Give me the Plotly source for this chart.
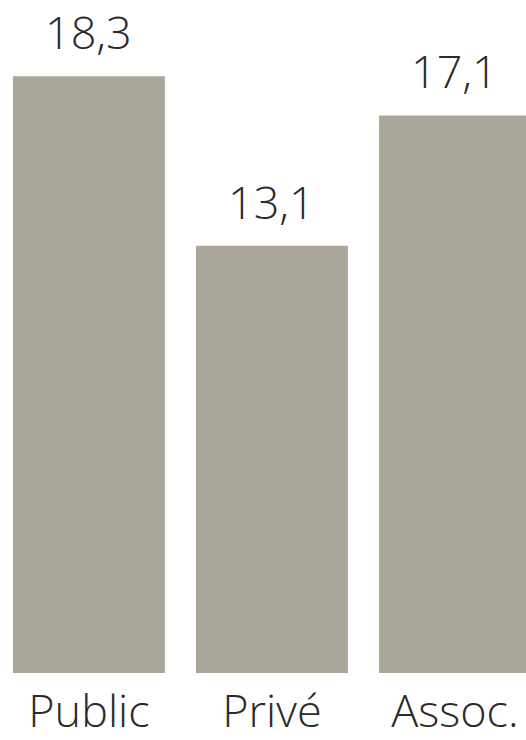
import plotly.graph_objects as go

categories = ["Public", "Privé", "Assoc."]
values = [18.3, 13.1, 17.1]
value_labels = ["18,3", "13,1", "17,1"]

bar_color = "#aba89b"
text_color = "#2b2b2b"
font_family = "Open Sans, Noto Sans, sans-serif"

fig = go.Figure(
    go.Bar(
        x=categories,
        y=values,
        marker=dict(color=bar_color, line=dict(width=0)),
        cliponaxis=False,
        width=0.83,
        hoverinfo="skip",
    )
)

for cat, val, lab in zip(categories, values, value_labels):
    fig.add_annotation(
        x=cat, y=val, text=lab, showarrow=False,
        xanchor="center", yanchor="bottom", yshift=13, borderpad=0,
        font=dict(size=45, color=text_color, family=font_family, weight=300),
    )

fig.update_layout(
    width=526,
    height=740,
    margin=dict(l=0, r=0, t=0, b=60),
    paper_bgcolor="white",
    plot_bgcolor="white",
    showlegend=False,
    font=dict(family=font_family, color=text_color),
)
fig.update_xaxes(
    range=[-0.486, 2.388],
    showgrid=False,
    zeroline=False,
    showline=False,
    ticks="",
    ticklabelstandoff=8,
    tickfont=dict(size=45, color=text_color, family=font_family, weight=300),
)
fig.update_yaxes(
    range=[0, 20.64],
    visible=False,
)

fig.write_html("out.html")
